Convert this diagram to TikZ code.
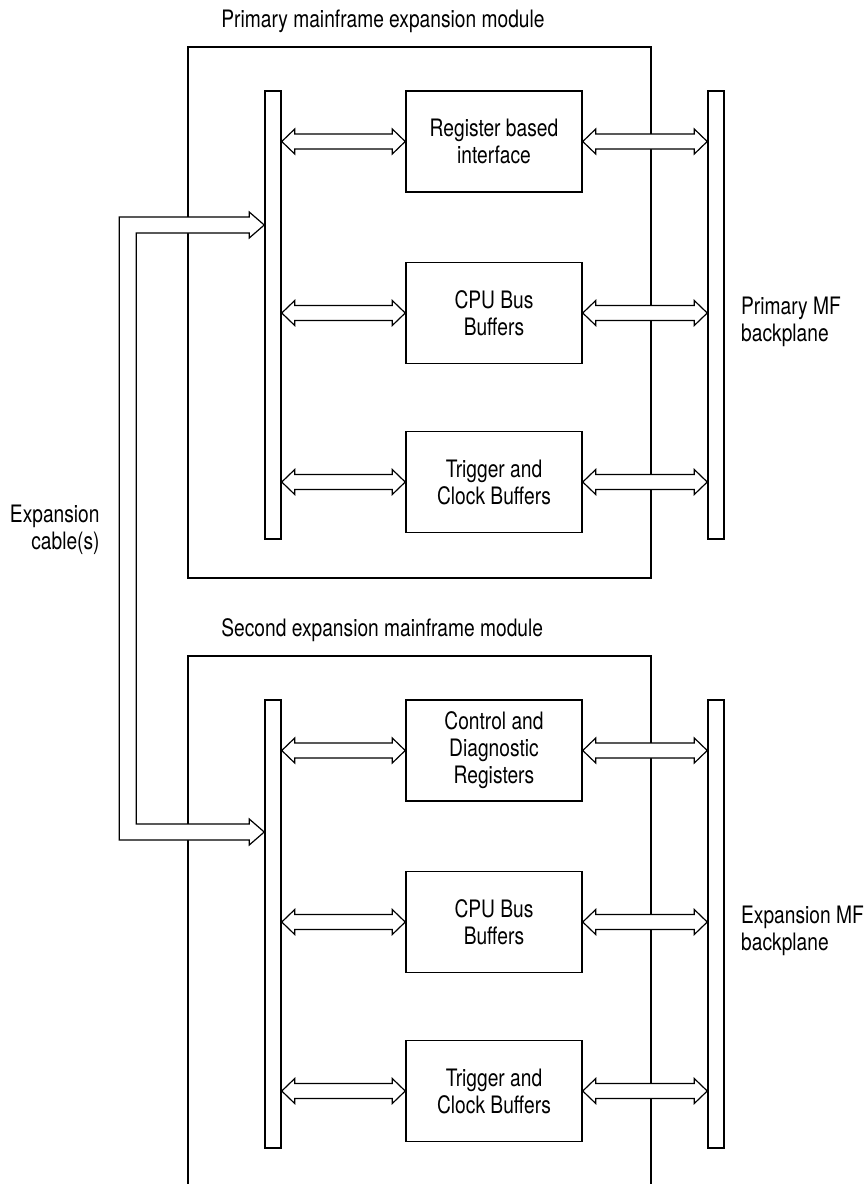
\documentclass[tikz,border=0pt]{standalone}
\usepackage{fontspec}
\setmainfont{TeX Gyre Heros}[FakeStretch=0.8]
\usetikzlibrary{calc}

\tikzset{
  modline/.style={line width=1.3pt},
  block/.style={draw, line width=0.75pt, minimum width=88pt, minimum height=50.5pt, align=center, inner sep=0pt},
  busbar/.style={draw, line width=0.75pt, minimum width=8pt, minimum height=224pt, inner sep=0pt},
  fatarrow/.style={draw, fill=white, line width=0.6pt, line join=miter},
  lbl/.style={inner sep=0pt}
}
% hollow double arrow between two points at the same height
\newcommand{\busarrow}[2]{%
  \path[fatarrow] (#1) -- ++(13,12.5) -- ++(0,-5) -- ($(#2)+(-13,7.5)$) -- ++(0,5) -- (#2)
    -- ++(-13,-12.5) -- ++(0,5) -- ($(#1)+(13,-7.5)$) -- ++(0,-5) -- cycle;}

\begin{document}
\begin{tikzpicture}[x=0.5pt, y=-0.5pt, font=\fontsize{12}{13.5}\selectfont]
  \useasboundingbox (0,0) rectangle (867,1184);
  % module outlines
  \draw[modline] (188,47) rectangle (651,578);
  \draw[modline] (188,1184) -- (188,656) -- (651,656) -- (651,1184);
  \node[lbl, anchor=base west] (title1) at (221,27) {Primary mainframe expansion module};
  \node[lbl, anchor=base west] (title2) at (221,636) {Second expansion mainframe module};

  % primary module
  \node[busbar] (lbus1) at (273,315) {};
  \node[busbar] (rbus1) at (716,315) {};
  \node[block] (reg1) at (494,141.5) {Register based\\interface};
  \node[block] (cpu1) at (494,313) {CPU Bus\\Buffers};
  \node[block] (trig1) at (494,482) {Trigger and\\Clock Buffers};

  % second module
  \node[busbar] (lbus2) at (273,924) {};
  \node[busbar] (rbus2) at (716,924) {};
  \node[block] (reg2) at (494,750.5) {Control and\\Diagnostic\\Registers};
  \node[block] (cpu2) at (494,922) {CPU Bus\\Buffers};
  \node[block] (trig2) at (494,1091) {Trigger and\\Clock Buffers};

  \foreach \b/\m in {reg/1, cpu/1, trig/1, reg/2, cpu/2, trig/2} {
    \coordinate (lend) at (lbus\m.east |- \b\m.west);
    \coordinate (rend) at (rbus\m.west |- \b\m.east);
    \busarrow{lend}{\b\m.west}
    \busarrow{\b\m.east}{rend}
  }

  % expansion cable
  \coordinate (cabtop) at (lbus1.west |- 0,225);
  \coordinate (cabbot) at (lbus2.west |- 0,832);
  \path[fatarrow] (cabtop) -- ++(-15,-13) -- ++(0,5) -- ++(-130,0) -- ($(cabbot)+(-145,8)$)
    -- ++(130,0) -- ++(0,5) -- (cabbot) -- ++(-15,-13) -- ++(0,5) -- ++(-113,0)
    -- ($(cabtop)+(-128,8)$) -- ++(113,0) -- ++(0,5) -- cycle;

  \node[lbl, anchor=east, align=right] (cable) at (100,530) {Expansion\\cable(s)};
  \node[lbl, anchor=west, align=left] (bp1) at ($(rbus1.east)+(16,7)$) {Primary MF\\backplane};
  \node[lbl, anchor=west, align=left] (bp2) at ($(rbus2.east)+(16,7)$) {Expansion MF\\backplane};
\end{tikzpicture}
\end{document}
